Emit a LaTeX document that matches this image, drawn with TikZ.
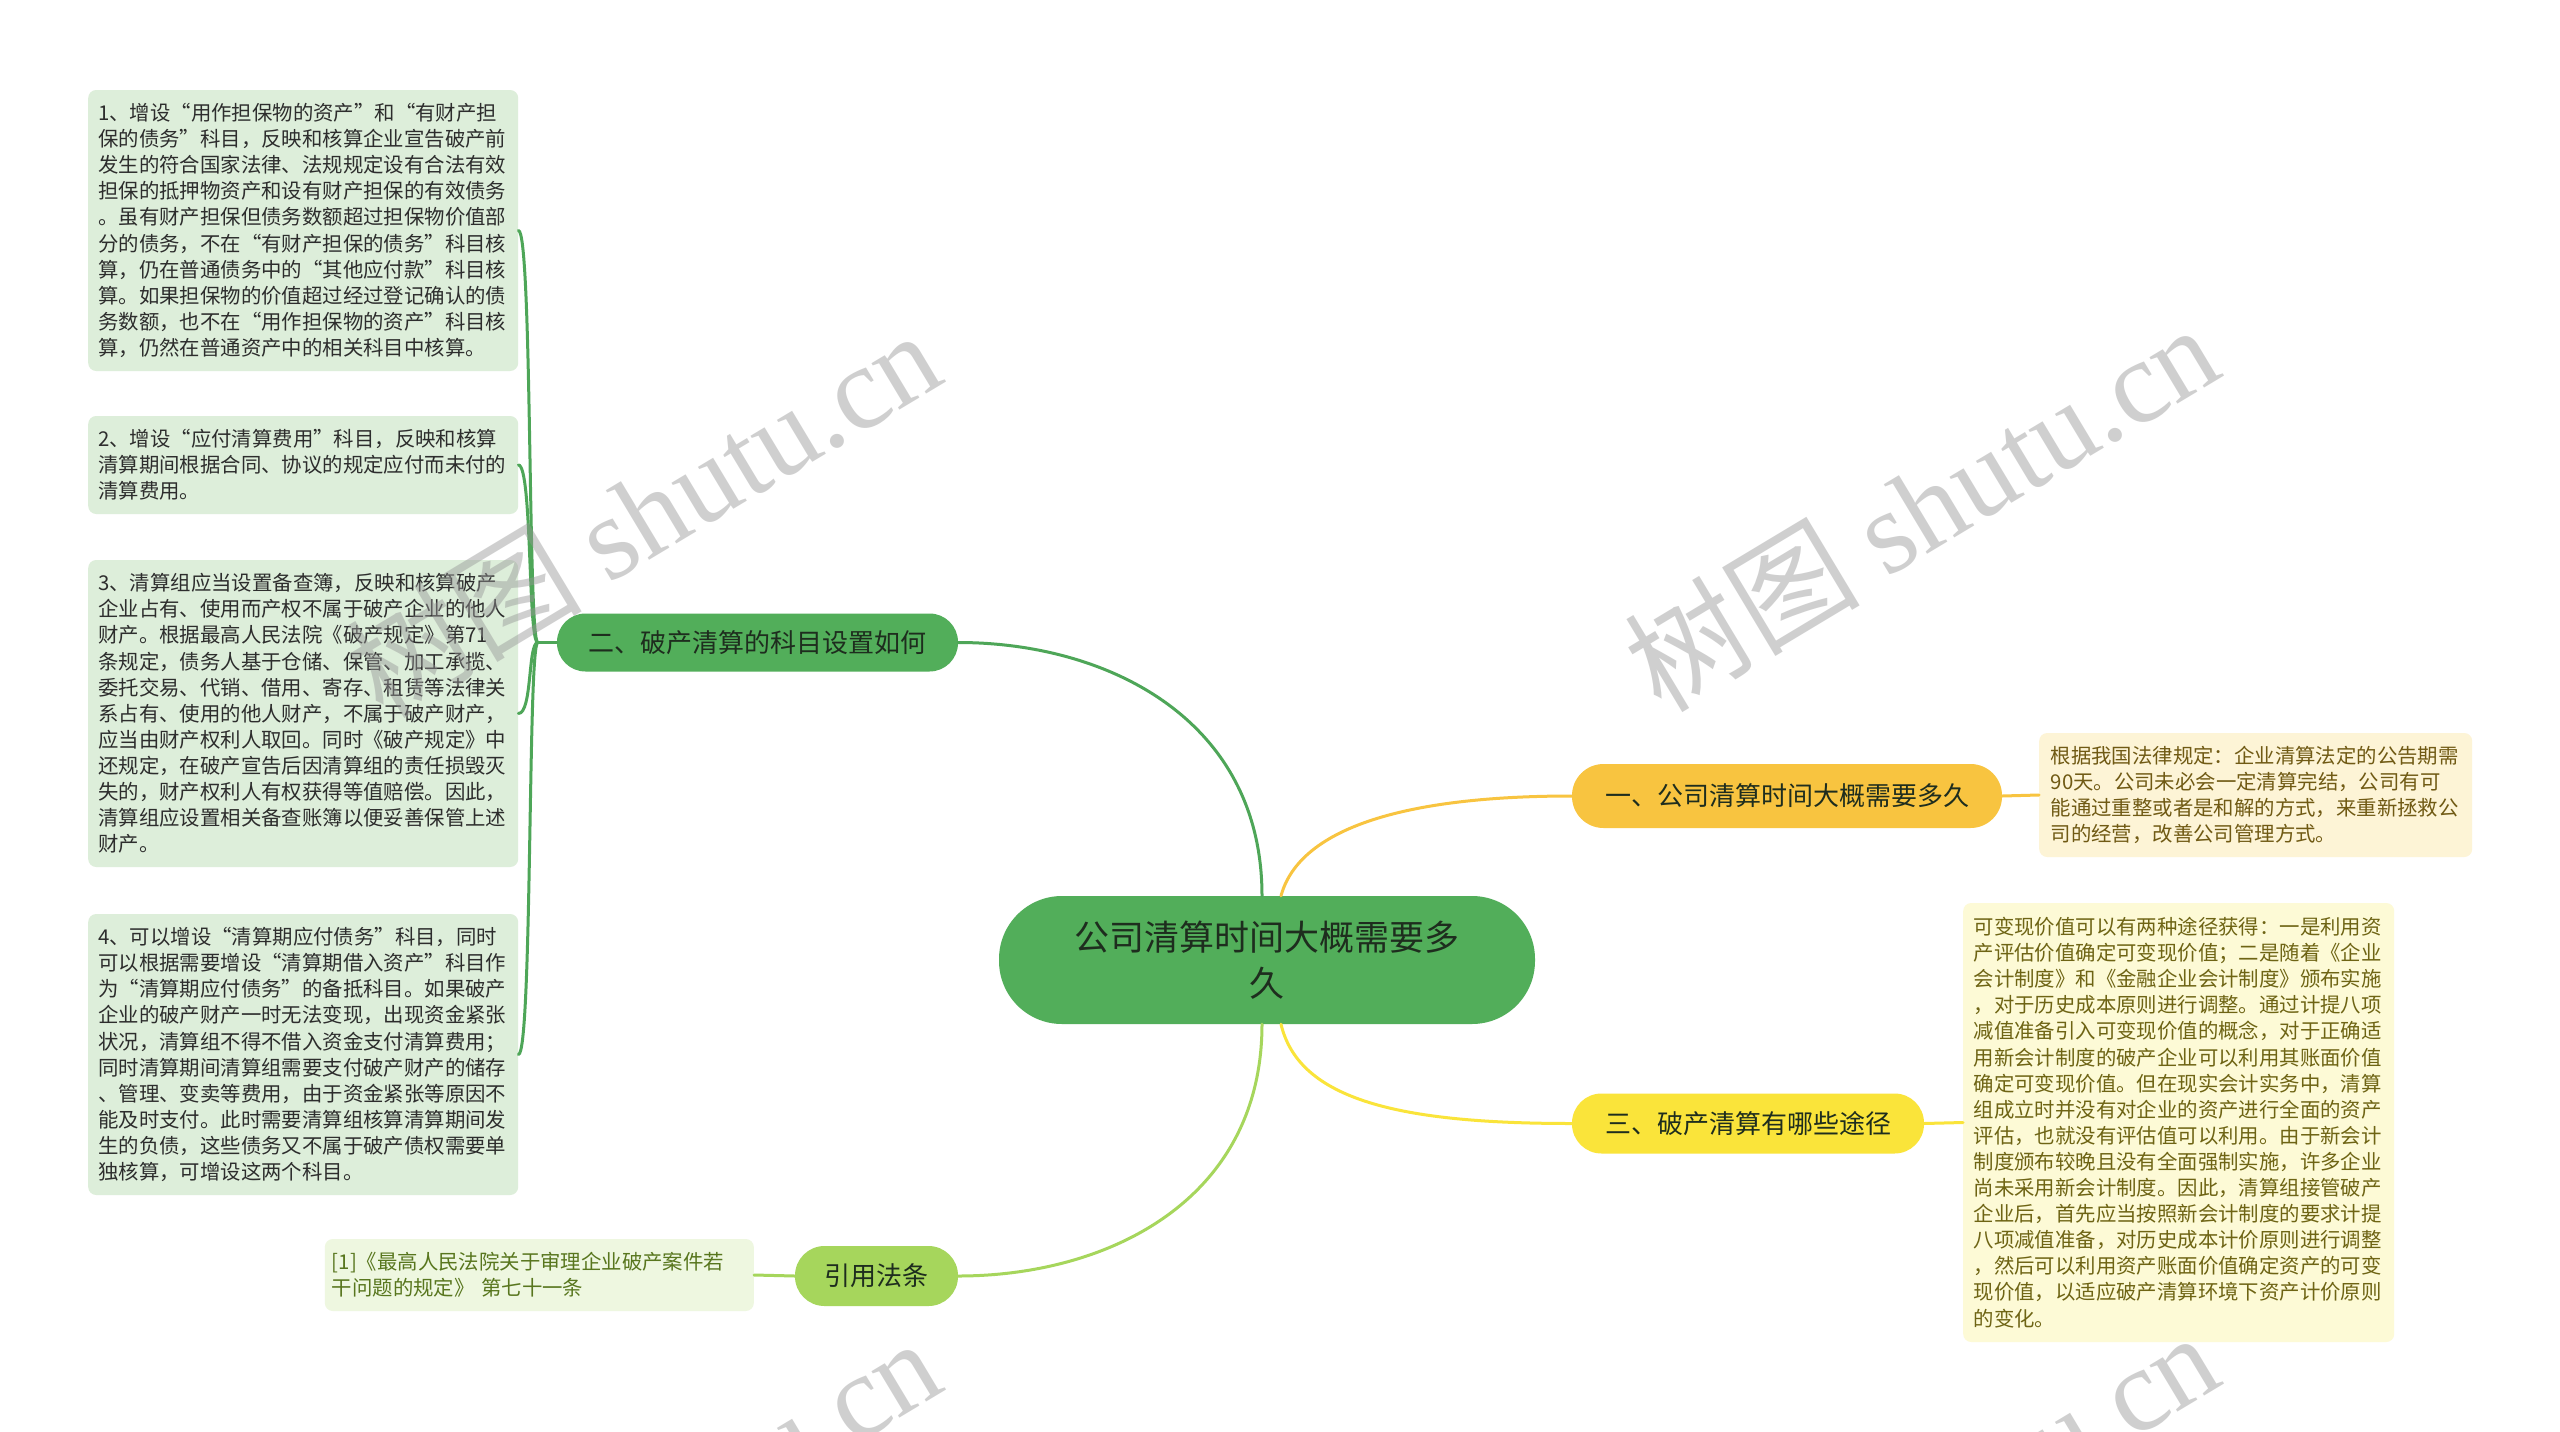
\documentclass[tikz,border=0pt]{standalone}
\usepackage{fontspec}
\setmainfont{Noto Sans CJK SC}
\newfontfamily\wmserif{Liberation Serif}
\usetikzlibrary{calc}
\definecolor{maingreen}{RGB}{82,174,90}
\definecolor{maintext}{RGB}{30,45,30}
\definecolor{linkgreen}{RGB}{78,166,88}
\definecolor{orangeY}{RGB}{248,196,64}
\definecolor{yellowY}{RGB}{250,228,58}
\definecolor{limeG}{RGB}{166,214,92}
\definecolor{leafgreen}{RGB}{221,238,218}
\definecolor{leaftext}{RGB}{45,45,45}
\definecolor{leafcream}{RGB}{253,244,214}
\definecolor{creamtext}{RGB}{112,90,20}
\definecolor{leafyellow}{RGB}{253,250,214}
\definecolor{yellowtext}{RGB}{110,100,20}
\definecolor{leaflime}{RGB}{238,247,224}
\definecolor{limetext}{RGB}{88,118,30}
\definecolor{wmgray}{RGB}{150,150,150}
\tikzset{
  leafbox/.style={draw=none, rounded corners=8pt, align=left, inner xsep=10pt, inner ysep=0pt,
    text width=410pt, font=\fontsize{20.4pt}{26.1pt}\selectfont},
  greenleaf/.style={leafbox, fill=leafgreen, text=leaftext, anchor=west},
  branchbox/.style={draw=none, inner sep=0pt, minimum height=58pt, rounded corners=28.5pt,
    font=\fontsize{26pt}{30pt}\selectfont, text=maintext},
  centralbox/.style={draw=none, fill=maingreen, inner sep=0pt, minimum width=536pt, minimum height=128pt,
    rounded corners=63pt, align=center, font=\fontsize{35pt}{46pt}\selectfont, text=maintext},
  linkline/.style={line width=3pt, line cap=round},
  wmtext/.style={text=wmgray, opacity=0.45, rotate=31, inner sep=0pt, font=\fontsize{118pt}{124pt}\selectfont}
}
\begin{document}
\begin{tikzpicture}[x=1pt,y=-1pt]
\useasboundingbox (0,0) rectangle (2560,1432);
\fill[white] (0,0) rectangle (2560,1432);

% central
\node[centralbox] (c) at (1267,960) {公司清算时间大概需要多\\久};

% branches
\node[branchbox, fill=maingreen, minimum width=401pt] (b2) at (757.5,642.5) {二、破产清算的科目设置如何};
\node[branchbox, fill=orangeY, minimum width=430pt, minimum height=64pt, rounded corners=31.5pt] (b1) at (1787,796) {一、公司清算时间大概需要多久};
\node[branchbox, fill=yellowY, minimum width=352pt, minimum height=60pt, rounded corners=29.5pt] (b3) at (1748,1123.5) {三、破产清算有哪些途径};
\node[branchbox, fill=limeG, minimum width=163pt, minimum height=60pt, rounded corners=29.5pt] (b4) at (876.5,1276) {引用法条};

% left leaves
\node[greenleaf, minimum height=281pt] (g1) at (88,230.5) {1、增设“用作担保物的资产”和“有财产担\\保的债务”科目，反映和核算企业宣告破产前\\发生的符合国家法律、法规规定设有合法有效\\担保的抵押物资产和设有财产担保的有效债务\\。虽有财产担保但债务数额超过担保物价值部\\分的债务，不在“有财产担保的债务”科目核\\算，仍在普通债务中的“其他应付款”科目核\\算。如果担保物的价值超过经过登记确认的债\\务数额，也不在“用作担保物的资产”科目核\\算，仍然在普通资产中的相关科目中核算。};
\node[greenleaf, minimum height=98pt] (g2) at (88,465) {2、增设“应付清算费用”科目，反映和核算\\清算期间根据合同、协议的规定应付而未付的\\清算费用。};
\node[greenleaf, minimum height=307pt] (g3) at (88,713.5) {3、清算组应当设置备查簿，反映和核算破产\\企业占有、使用而产权不属于破产企业的他人\\财产。根据最高人民法院《破产规定》第71\\条规定，债务人基于仓储、保管、加工承揽、\\委托交易、代销、借用、寄存、租赁等法律关\\系占有、使用的他人财产，不属于破产财产，\\应当由财产权利人取回。同时《破产规定》中\\还规定，在破产宣告后因清算组的责任损毁灭\\失的，财产权利人有权获得等值赔偿。因此，\\清算组应设置相关备查账簿以便妥善保管上述\\财产。};
\node[greenleaf, minimum height=281pt] (g4) at (88,1054.5) {4、可以增设“清算期应付债务”科目，同时\\可以根据需要增设“清算期借入资产”科目作\\为“清算期应付债务”的备抵科目。如果破产\\企业的破产财产一时无法变现，出现资金紧张\\状况，清算组不得不借入资金支付清算费用；\\同时清算期间清算组需要支付破产财产的储存\\、管理、变卖等费用，由于资金紧张等原因不\\能及时支付。此时需要清算组核算清算期间发\\生的负债，这些债务又不属于破产债权需要单\\独核算，可增设这两个科目。};

% right leaves
\node[leafbox, fill=leafcream, text=creamtext, anchor=west, inner xsep=11.5pt, minimum height=124pt] (l1) at (2039,795) {根据我国法律规定：企业清算法定的公告期需\\90天。公司未必会一定清算完结，公司有可\\能通过重整或者是和解的方式，来重新拯救公\\司的经营，改善公司管理方式。};
\node[leafbox, fill=leafyellow, text=yellowtext, anchor=west, inner xsep=10.5pt, minimum height=439pt] (l3) at (1963,1122.5) {可变现价值可以有两种途径获得：一是利用资\\产评估价值确定可变现价值；二是随着《企业\\会计制度》和《金融企业会计制度》颁布实施\\，对于历史成本原则进行调整。通过计提八项\\减值准备引入可变现价值的概念，对于正确适\\用新会计制度的破产企业可以利用其账面价值\\确定可变现价值。但在现实会计实务中，清算\\组成立时并没有对企业的资产进行全面的资产\\评估，也就没有评估值可以利用。由于新会计\\制度颁布较晚且没有全面强制实施，许多企业\\尚未采用新会计制度。因此，清算组接管破产\\企业后，首先应当按照新会计制度的要求计提\\八项减值准备，对历史成本计价原则进行调整\\，然后可以利用资产账面价值确定资产的可变\\现价值，以适应破产清算环境下资产计价原则\\的变化。};
\node[leafbox, fill=leaflime, text=limetext, anchor=east, inner xsep=7pt, text width=415pt, minimum height=72pt] (l4) at (754,1275) {[1]《最高人民法院关于审理企业破产案件若\\干问题的规定》 第七十一条};

% main connectors
\draw[linkline, linkgreen] ([xshift=-5pt]c.north) .. controls +(0,-176) and +(150,0) .. (b2.east);
\draw[linkline, orangeY] ([xshift=14pt]c.north) .. controls +(18,-66) and +(-172,0) .. (b1.west);
\draw[linkline, yellowY] ([xshift=14pt]c.south) .. controls +(18,76) and +(-172,0) .. (b3.west);
\draw[linkline, limeG] ([xshift=-5pt]c.south) .. controls +(0,176) and +(150,0) .. (b4.east);

% leaf connectors
\draw[linkline, orangeY] (b1.east) -- (l1.west);
\draw[linkline, yellowY] (b3.east) -- (l3.west);
\draw[linkline, limeG] (b4.west) -- (l4.east);

% left bracket
\coordinate (bk) at ([xshift=-19pt]b2.west);
\draw[linkline, linkgreen] (b2.west) -- (bk);
\foreach \g in {g1,g2,g3,g4}{
  \draw[linkline, linkgreen] (bk) .. controls +(-10,0) and +(14,0) .. (\g.east);
}

% watermarks
\begin{scope}
\clip (0,0) rectangle (2560,1432);
\node[wmtext] (wm1) at (643,512) {树图 {\wmserif shutu.cn}};
\node[wmtext] (wm2) at (1921,506) {树图 {\wmserif shutu.cn}};
\node[wmtext] (wm3) at (643,1520) {树图 {\wmserif shutu.cn}};
\node[wmtext] (wm4) at (1921,1514) {树图 {\wmserif shutu.cn}};
\end{scope}
\end{tikzpicture}
\end{document}
